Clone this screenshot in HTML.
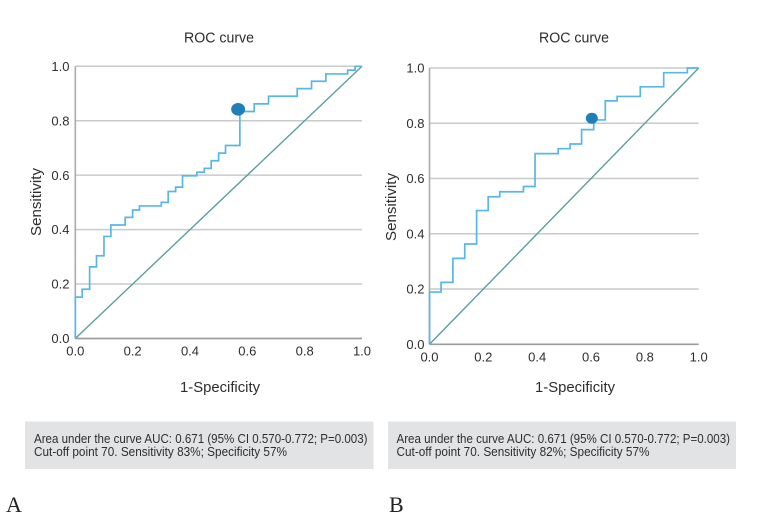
<!DOCTYPE html>
<html lang="en">
<head>
<meta charset="utf-8">
<title>ROC curves</title>
<style>
html,body{margin:0;padding:0;background:#fff;}
body{width:767px;height:522px;overflow:hidden;}
svg{display:block;}
text{font-family:"Liberation Sans","DejaVu Sans",sans-serif;fill:#2e2e2e;}
.serif{font-family:"Liberation Serif",serif;fill:#222;}
</style>
</head>
<body>
<svg id="figure" xmlns="http://www.w3.org/2000/svg" width="767" height="522" viewBox="0 0 767 522">
  <rect x="0" y="0" width="767" height="522" fill="#ffffff"/>
  <g id="chart-a"></g>
  <g id="chart-b"></g>

  <text x="184" y="42.5" font-size="14.5" textLength="70" lengthAdjust="spacingAndGlyphs">ROC curve</text>
  <text x="539" y="42.5" font-size="14.5" textLength="70" lengthAdjust="spacingAndGlyphs">ROC curve</text>

  <text x="180" y="392" font-size="14.5" textLength="80" lengthAdjust="spacingAndGlyphs">1-Specificity</text>
  <text x="535" y="392" font-size="14.5" textLength="80" lengthAdjust="spacingAndGlyphs">1-Specificity</text>

  <text transform="translate(41,236) rotate(-90)" font-size="14.5" textLength="68" lengthAdjust="spacingAndGlyphs">Sensitivity</text>
  <text transform="translate(396,241) rotate(-90)" font-size="14.5" textLength="68" lengthAdjust="spacingAndGlyphs">Sensitivity</text>

  <rect x="25" y="421.5" width="348.5" height="47.5" fill="#e2e3e5"/>
  <text x="34" y="443" font-size="12.5" textLength="333.5" lengthAdjust="spacingAndGlyphs">Area under the curve AUC: 0.671 (95% CI 0.570-0.772; P=0.003)</text>
  <text x="34" y="456" font-size="12.5" textLength="253" lengthAdjust="spacingAndGlyphs">Cut-off point 70. Sensitivity 83%; Specificity 57%</text>

  <rect x="388" y="421.5" width="348" height="47.5" fill="#e2e3e5"/>
  <text x="396.5" y="443" font-size="12.5" textLength="333.5" lengthAdjust="spacingAndGlyphs">Area under the curve AUC: 0.671 (95% CI 0.570-0.772; P=0.003)</text>
  <text x="396.5" y="456" font-size="12.5" textLength="253" lengthAdjust="spacingAndGlyphs">Cut-off point 70. Sensitivity 82%; Specificity 57%</text>

  <text class="serif" x="6" y="512" font-size="22">A</text>
  <text class="serif" x="389" y="512" font-size="22">B</text>
</svg>
<script>
var tickLabels = ['0.0', '0.2', '0.4', '0.6', '0.8', '1.0'];
var tickValues = [0, 0.2, 0.4, 0.6, 0.8, 1];
var referenceX = [0, 1];
var referenceY = [0, 1];

var curveAFpr = [0, 0.024, 0.05, 0.074, 0.10, 0.124, 0.174, 0.20, 0.224, 0.30, 0.324, 0.35, 0.374, 0.424, 0.45, 0.474, 0.50, 0.524, 0.574, 0.624, 0.674, 0.774, 0.824, 0.874, 0.95, 0.976];
var curveATpr = [0.152, 0.181, 0.263, 0.304, 0.375, 0.417, 0.445, 0.472, 0.487, 0.50, 0.54, 0.556, 0.598, 0.611, 0.625, 0.653, 0.681, 0.709, 0.834, 0.862, 0.89, 0.918, 0.945, 0.972, 0.986, 1.0];
var cutoffA = [0.568, 0.842];

var curveBFpr = [0, 0.043, 0.087, 0.131, 0.175, 0.218, 0.261, 0.349, 0.392, 0.478, 0.522, 0.565, 0.61, 0.653, 0.697, 0.783, 0.87, 0.958];
var curveBTpr = [0.189, 0.224, 0.311, 0.363, 0.484, 0.534, 0.552, 0.571, 0.69, 0.708, 0.725, 0.777, 0.812, 0.881, 0.897, 0.932, 0.983, 1.0];
var cutoffB = [0.603, 0.818];

var SVG_NS = 'http://www.w3.org/2000/svg';

function make(parent, tag, attrs) {
  var el = document.createElementNS(SVG_NS, tag);
  for (var key in attrs) { el.setAttribute(key, attrs[key]); }
  parent.appendChild(el);
  return el;
}

function drawChart(groupId, box, fpr, tpr, cutoff, markerSize) {
  var g = document.getElementById(groupId);
  function sx(v) { return box.left + v * (box.right - box.left); }
  function sy(v) { return box.bottom - v * (box.bottom - box.top); }

  tickValues.forEach(function (v, i) {
    if (v > 0) {
      var grid = make(g, 'line', {x1: sx(0), x2: sx(1), y1: sy(v), y2: sy(v), stroke: '#c9cacb', 'stroke-width': 1.5});
      
      
    }
    var yLabel = make(g, 'text', {x: box.yLabelRight, y: sy(v) + 4.6, 'font-size': 13, 'text-anchor': 'end'});
    yLabel.textContent = tickLabels[i];
    
    
    var xLabel = make(g, 'text', {x: sx(v), y: box.bottom + 17, 'font-size': 13, 'text-anchor': 'middle'});
    xLabel.textContent = tickLabels[i];
    
    
  });

  var yAxis = make(g, 'line', {x1: sx(0), x2: sx(0), y1: sy(1), y2: sy(0), stroke: '#a9abad', 'stroke-width': 1.6});
  
  
  var xAxis = make(g, 'line', {x1: sx(0), x2: sx(1), y1: sy(0), y2: sy(0), stroke: '#9a9c9e', 'stroke-width': 1.7});
  
  

  var diag = make(g, 'line', {x1: sx(referenceX[0]), y1: sy(referenceY[0]), x2: sx(referenceX[1]), y2: sy(referenceY[1]), stroke: '#5b9f9c', 'stroke-width': 1.4});
  
  

  var d = 'M' + sx(0) + ' ' + sy(0);
  fpr.forEach(function (x, i) {
    d += 'L' + sx(x) + ' ' + (i === 0 ? sy(0) : sy(tpr[i - 1]));
    d += 'L' + sx(x) + ' ' + sy(tpr[i]);
  });
  d += 'L' + sx(1) + ' ' + sy(tpr[tpr.length - 1]);
  var curve = make(g, 'path', {d: d, fill: 'none', stroke: '#58b7e6', 'stroke-width': 1.7});
  
  

  var marker = make(g, 'ellipse', {cx: sx(cutoff[0]), cy: sy(cutoff[1]), rx: markerSize[0], ry: markerSize[1], fill: '#1f7fb8'});
  
  
}

drawChart('chart-a', {left: 75.3, right: 362, top: 66.3, bottom: 338.5, yLabelRight: 69.5}, curveAFpr, curveATpr, cutoffA, [7, 6.3]);
drawChart('chart-b', {left: 429.5, right: 698.7, top: 68, bottom: 344.3, yLabelRight: 424.5}, curveBFpr, curveBTpr, cutoffB, [6, 5.5]);
</script>
</body>
</html>
